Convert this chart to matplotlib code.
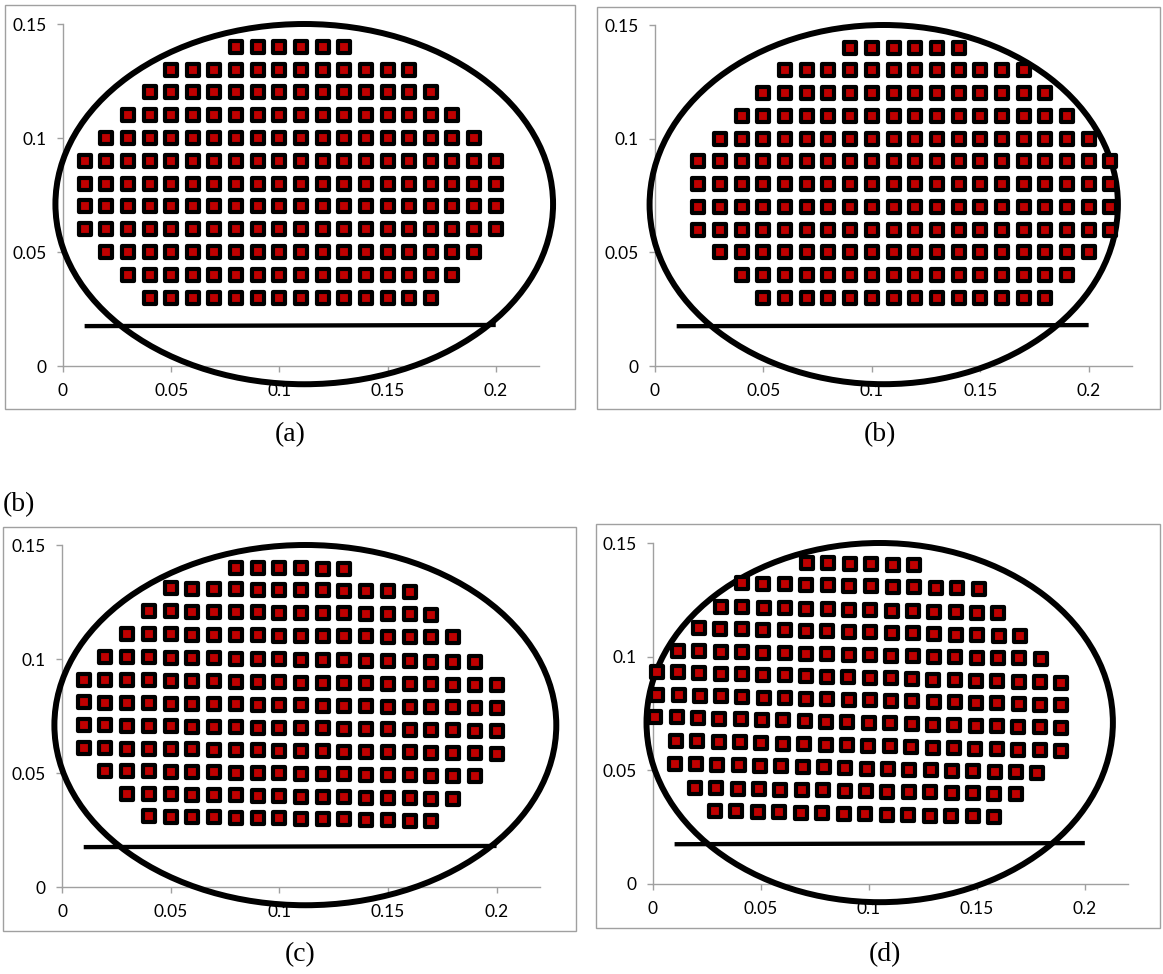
import numpy as np
import matplotlib
matplotlib.use("Agg")
import matplotlib.pyplot as plt
from matplotlib.markers import MarkerStyle
from matplotlib.patches import Ellipse, Rectangle

# ---- data ----
# regular grids: one entry per row (y, first x, last x)
a_row_y = [0.14, 0.13, 0.12, 0.11, 0.10, 0.09, 0.08, 0.07, 0.06, 0.05, 0.04, 0.03]
a_row_x0 = [0.08, 0.05, 0.04, 0.03, 0.02, 0.01, 0.01, 0.01, 0.01, 0.02, 0.03, 0.04]
a_row_x1 = [0.13, 0.16, 0.17, 0.18, 0.19, 0.20, 0.20, 0.20, 0.20, 0.19, 0.18, 0.17]

b_row_y = [0.14, 0.13, 0.12, 0.11, 0.10, 0.09, 0.08, 0.07, 0.06, 0.05, 0.04, 0.03]
b_row_x0 = [0.09, 0.06, 0.05, 0.04, 0.03, 0.02, 0.02, 0.02, 0.02, 0.03, 0.04, 0.05]
b_row_x1 = [0.14, 0.17, 0.18, 0.19, 0.20, 0.21, 0.21, 0.21, 0.21, 0.20, 0.19, 0.18]

# deformed grids: rows drift slightly, y read at both ends of each row
c_row_y = [0.140, 0.131, 0.121, 0.111, 0.101, 0.091, 0.081, 0.071, 0.061, 0.051, 0.041, 0.031]
c_row_y_end = [0.1395, 0.1295, 0.1195, 0.1095, 0.0985, 0.0885, 0.0785, 0.0685, 0.0585, 0.0485, 0.0385, 0.029]
c_row_x0 = [0.080, 0.050, 0.040, 0.030, 0.020, 0.010, 0.010, 0.010, 0.010, 0.020, 0.030, 0.040]
c_row_x1 = [0.130, 0.160, 0.170, 0.180, 0.190, 0.200, 0.200, 0.200, 0.200, 0.190, 0.180, 0.170]
c_row_n = [6, 12, 14, 16, 18, 20, 20, 20, 20, 18, 16, 14]

d_row_y = [0.1412, 0.1324, 0.1219, 0.1126, 0.1025, 0.0933, 0.0832, 0.0735, 0.0630, 0.0530, 0.0422, 0.0321]
d_row_y_end = [0.1403, 0.1298, 0.1192, 0.1090, 0.0990, 0.0884, 0.0787, 0.0686, 0.0585, 0.0488, 0.0396, 0.0295]
d_row_x0 = [0.0713, 0.0410, 0.0315, 0.0213, 0.0116, 0.0018, 0.0020, 0.0010, 0.0106, 0.0100, 0.0194, 0.0287]
d_row_x1 = [0.1210, 0.1510, 0.1600, 0.1700, 0.1796, 0.1890, 0.1890, 0.1890, 0.1890, 0.1780, 0.1680, 0.1580]
d_row_n = [6, 12, 14, 16, 18, 20, 20, 20, 19, 18, 16, 14]

# boundary ellipse (centre x, centre y, width, height) per panel
ellipses = {
    "a": (0.1115, 0.0710, 0.2300, 0.1580),
    "b": (0.1055, 0.0710, 0.2160, 0.1580),
    "c": (0.1120, 0.0710, 0.2310, 0.1580),
    "d": (0.1050, 0.0710, 0.2160, 0.1580),
}
line_x = [0.01, 0.2]
line_y = [0.0175, 0.018]

x_ticks = [0, 0.05, 0.1, 0.15, 0.2]
x_labels = ["0", "0.05", "0.1", "0.15", "0.2"]
y_ticks = [0, 0.05, 0.1, 0.15]
y_labels = ["0", "0.05", "0.1", "0.15"]


def grid_points(row_y, x0, x1, row_y_end=None, row_n=None):
    xs, ys = [], []
    for i, y in enumerate(row_y):
        if row_n is None:
            n = int(round((x1[i] - x0[i]) / 0.01)) + 1
        else:
            n = row_n[i]
        px = np.linspace(x0[i], x1[i], n)
        if row_y_end is None:
            py = np.full(n, y)
        else:
            py = np.linspace(y, row_y_end[i], n)
        xs.extend(px)
        ys.extend(py)
    return np.array(xs), np.array(ys)


W, H = 1163, 974
fig = plt.figure(figsize=(W / 100, H / 100), dpi=100)
plt.rcParams['font.family'] = ['Lato', 'DejaVu Sans']

GRAY = "#A0A0A0"


def px_rect(x0, y0, x1, y1):
    # pixel box (top-left origin) -> figure fraction
    return [x0 / W, 1 - y1 / H, (x1 - x0) / W, (y1 - y0) / H]


def draw_panel(key, axes_box, frame_box, pts):
    fr = px_rect(*frame_box)
    fig.patches.append(Rectangle((fr[0], fr[1]), fr[2], fr[3], transform=fig.transFigure,
                                 fill=False, edgecolor=GRAY, lw=1.0))
    ax = fig.add_axes(px_rect(*axes_box))
    ax.set_xlim(0, 0.22)
    ax.set_ylim(0, 0.15)
    for s in ["top", "right"]:
        ax.spines[s].set_visible(False)
    for s in ["left", "bottom"]:
        ax.spines[s].set_color(GRAY)
        ax.spines[s].set_linewidth(1.0)
    ax.set_xticks(x_ticks)
    ax.set_xticklabels(x_labels)
    ax.set_yticks(y_ticks)
    ax.set_yticklabels(y_labels)
    ax.tick_params(colors=GRAY, labelcolor="black", labelsize=12.5, length=4, width=1)
    ax.tick_params(axis="x", pad=8)
    ax.tick_params(axis="y", pad=8)

    cx, cy, w, h = ellipses[key]
    ax.add_patch(Ellipse((cx, cy), w, h, fill=False, edgecolor="black", lw=4.3,
                         clip_on=False, zorder=3))
    ax.plot(line_x, line_y, color="black", lw=3.1, solid_capstyle="butt", clip_on=False, zorder=3)
    xs, ys = pts
    ax.plot(xs, ys, linestyle="none", marker=MarkerStyle("s", joinstyle="round"),
            ms=8.0, mew=3.0, mfc="#C00000", mec="black", clip_on=False, zorder=4)
    return ax


draw_panel("a", (63, 24, 539, 366), (5, 5, 575, 409), grid_points(a_row_y, a_row_x0, a_row_x1))
draw_panel("b", (655, 25, 1132, 366), (597, 7, 1160, 409), grid_points(b_row_y, b_row_x0, b_row_x1))
draw_panel("c", (62, 545, 540, 887), (3, 527, 576, 931),
           grid_points(c_row_y, c_row_x0, c_row_x1, c_row_y_end, c_row_n))
draw_panel("d", (653, 543, 1128, 884), (596, 524, 1160, 928),
           grid_points(d_row_y, d_row_x0, d_row_x1, d_row_y_end, d_row_n))

serif = ["Liberation Serif", "DejaVu Serif"]
for lbl, x, y in [("(a)", 290, 435), ("(b)", 880, 435), ("(b)", 19, 505),
                  ("(c)", 300, 955), ("(d)", 885, 955)]:
    fig.text(x / W, 1 - y / H, lbl, family=serif, fontsize=20, ha="center", va="center")

fig.savefig("out.png", dpi=100)
